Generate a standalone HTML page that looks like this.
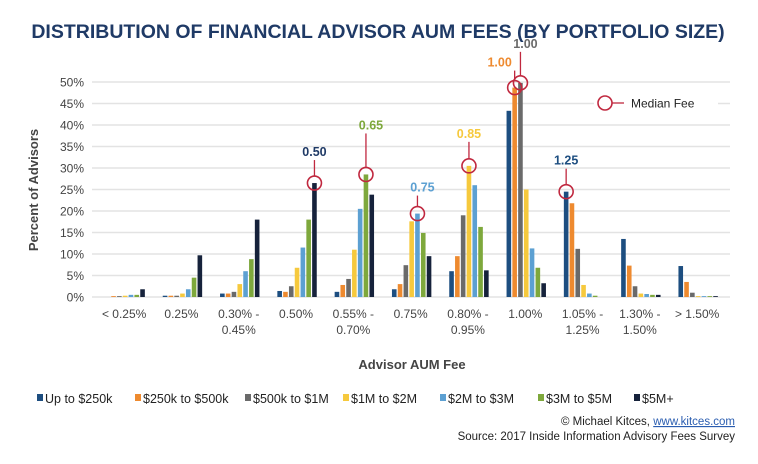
<!DOCTYPE html>
<html><head><meta charset="utf-8"><style>
body{margin:0;background:#fff;}
svg{display:block;font-family:"Liberation Sans",sans-serif;}
</style></head><body>
<svg id="c" width="758" height="464" viewBox="0 0 758 464">
<line x1="0" y1="0" x2="0" y2="0"/>
<text x="378" y="38" text-anchor="middle" font-size="19.5" font-weight="bold" fill="#1f3a66">DISTRIBUTION OF FINANCIAL ADVISOR AUM FEES (BY PORTFOLIO SIZE)</text>
<text transform="translate(38,190) rotate(-90)" text-anchor="middle" font-size="13" font-weight="bold" fill="#444">Percent of Advisors</text>
<text x="412" y="369" text-anchor="middle" font-size="13" font-weight="bold" fill="#444">Advisor AUM Fee</text>
<g id="grid"></g><g id="bars"></g><g id="med"></g><g id="xl"></g><g id="leg"></g>
<text x="735" y="425" text-anchor="end" font-size="11.5" fill="#222">© Michael Kitces, <tspan fill="#2a5db0" text-decoration="underline">www.kitces.com</tspan></text>
<text x="735" y="440" text-anchor="end" font-size="11.5" fill="#222">Source: 2017 Inside Information Advisory Fees Survey</text>
</svg>
<script>
const categories=[["< 0.25%"],["0.25%"],["0.30% -","0.45%"],["0.50%"],["0.55% -","0.70%"],["0.75%"],["0.80% -","0.95%"],["1.00%"],["1.05% -","1.25%"],["1.30% -","1.50%"],["> 1.50%"]];
const seriesNames=["Up to $250k","$250k to $500k","$500k to $1M","$1M to $2M","$2M to $3M","$3M to $5M","$5M+"];
const colors=["#1d4e80","#ee8a2f","#6a6a6a","#f6c93d","#5ca0d2","#7ea83c","#16223b"];
const s0=[0,0.3,0.8,1.4,1.2,1.8,6,43.3,24.5,13.5,7.2];
const s1=[0.2,0.3,0.8,1.2,2.8,3,9.5,48.7,21.8,7.3,3.5];
const s2=[0.2,0.3,1.2,2.5,4.2,7.4,19,49.8,11.2,2.5,1];
const s3=[0.3,0.8,3,6.8,11,17.6,30.5,25,2.8,0.8,0.2];
const s4=[0.5,1.8,6,11.5,20.5,19.4,26,11.3,0.8,0.7,0.2];
const s5=[0.5,4.5,8.8,18,28.5,14.9,16.3,6.8,0.3,0.5,0.2];
const s6=[1.8,9.7,18,26.5,23.8,9.5,6.2,3.2,0,0.5,0.2];
const series=[s0,s1,s2,s3,s4,s5,s6];
const yTicks=[0,5,10,15,20,25,30,35,40,45,50];
// medians: [category index, series index, label, label color]
const medians=[[3,6,"0.50","#1f3a66"],[4,5,"0.65","#7ea83c"],[5,4,"0.75","#5ca0d2"],[6,3,"0.85","#f6c93d"],[7,1,"1.00","#ee8a2f"],[7,2,"1.00","#6a6a6a"],[8,0,"1.25","#1d4e80"]];
const NS="http://www.w3.org/2000/svg";
function mk(t,a,p){const e=document.createElementNS(NS,t);for(const k in a)e.setAttribute(k,a[k]);p.appendChild(e);return e;}
const y0=297,pxPer=4.3,xStart=95.5,step=57.3,bw=4.6,bs=5.8;
const yS=v=>y0-v*pxPer;
const xC=i=>xStart+step*(i+0.5);
const xB=(i,s)=>xC(i)+(s-3)*bs-bw/2+1;
const grid=document.getElementById('grid');
yTicks.forEach(t=>{
 const l=mk('line',{x1:92,x2:730,y1:yS(t),y2:yS(t),stroke:'#e3e3e3','stroke-width':1.5},grid);
 
 
 const tx=mk('text',{x:84,y:yS(t)+4.5,'text-anchor':'end','font-size':12,fill:'#444'},grid);tx.textContent=t+'%';
 
 
});
const bars=document.getElementById('bars');
series.forEach((arr,s)=>arr.forEach((v,i)=>{
 const r=mk('rect',{x:xB(i,s),y:yS(v),width:bw,height:v*pxPer,fill:colors[s]},bars);
 
 
}));
const xl=document.getElementById('xl');
categories.forEach((c,i)=>c.forEach((ln,j)=>{
 const t=mk('text',{x:xC(i),y:318+j*16,'text-anchor':'middle','font-size':12,fill:'#444'},xl);t.textContent=ln;
 
 
}));
const med=document.getElementById('med');
const labelOff={"0.50":[0,-27],"0.65":[5,-45],"0.75":[5,-22],"0.85":[0,-28],"1.00o":[-15,-21],"1.00g":[5,-35],"1.25":[0,-27]};
medians.forEach((m,k)=>{
 const cx=xB(m[0],m[1])+bw/2, cy=yS(series[m[1]][m[0]]);
 const key=m[2]==="1.00"?(m[1]===1?"1.00o":"1.00g"):m[2];
 const o=labelOff[key];
 const ln=mk('line',{x1:cx,y1:cy-7,x2:cx,y2:cy+o[1]+4,stroke:'#c0283f','stroke-width':1.3},med);
 
 
 const c=mk('circle',{cx:cx,cy:cy,r:7,fill:'none',stroke:'#c0283f','stroke-width':1.6},med);
 
 
 const t=mk('text',{x:cx+o[0],y:cy+o[1],'text-anchor':'middle','font-size':12.5,'font-weight':'bold',fill:m[3]},med);t.textContent=m[2];
 
 
});
const mlg=mk('rect',{x:594,y:93,width:124,height:20,fill:'#fff'},med);


const mc=mk('circle',{cx:605,cy:103,r:7,fill:'none',stroke:'#c0283f','stroke-width':1.6},med);


mk('line',{x1:612,y1:103,x2:624,y2:103,stroke:'#c0283f','stroke-width':1.3},med);
const mt=mk('text',{x:631,y:107.5,'font-size':12,fill:'#222'},med);mt.textContent='Median Fee';


const leg=document.getElementById('leg');
const legX=[37,135,245,343,440,538,634];
seriesNames.forEach((n,s)=>{
 const r=mk('rect',{x:legX[s],y:394,width:6,height:7,fill:colors[s]},leg);
 
 
 const t=mk('text',{x:legX[s]+8,y:403,'font-size':12.5,fill:'#222'},leg);t.textContent=n;
 
 
});
</script>
</body></html>
